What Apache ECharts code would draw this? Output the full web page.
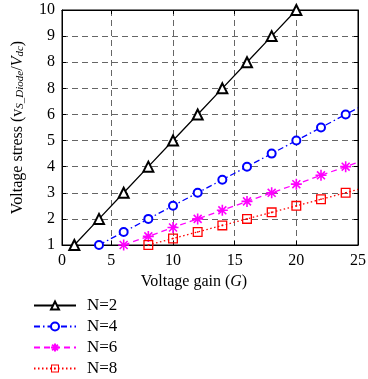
<!DOCTYPE html>
<html>
<head>
<meta charset="utf-8">
<script src="https://cdn.jsdelivr.net/npm/echarts@6/dist/echarts.min.js"></script>
<style>
  html, body { margin: 0; padding: 0; background: #fff; }
  #chart { width: 368px; height: 379px; }
</style>
</head>
<body>
<div id="chart"></div>
<script>
// values
const seriesNames = ['N=2', 'N=4', 'N=6', 'N=8']
const gainN2 = [2, 4, 6, 8, 10, 12, 14, 16, 18, 20]
const stressN2 = [1, 2, 3, 4, 5, 6, 7, 8, 9, 10]
const gainN4 = [4, 6, 8, 10, 12, 14, 16, 18, 20, 22, 24, 25]
const stressN4 = [1, 1.5, 2, 2.5, 3, 3.5, 4, 4.5, 5, 5.5, 6, 6.25]
const gainN6 = [6, 8, 10, 12, 14, 16, 18, 20, 22, 24, 25]
const stressN6 = [1, 1.33, 1.67, 2, 2.33, 2.67, 3, 3.33, 3.67, 4, 4.17]
const gainN8 = [8, 10, 12, 14, 16, 18, 20, 22, 24, 25]
const stressN8 = [1, 1.25, 1.5, 1.75, 2, 2.25, 2.5, 2.75, 3, 3.13]

// tick labels as printed (the figure labels x=1 as "0" and y=7 as "8")
const xTickValues = [1, 5, 10, 15, 20, 25]
const xTickLabels = ['0', '5', '10', '15', '20', '25']
const yTickLabels = ['1', '2', '3', '4', '5', '6', '8', '8', '9', '10']

const FONT = 'Liberation Serif'
const ASTERISK = 'path://M0 -5 L0 5 M-5 0 L5 0 M-3.6 -3.6 L3.6 3.6 M3.6 -3.6 L-3.6 3.6'
const DOT_SQUARE = 'path://M-5 -5 H5 V5 H-5 Z M-3.7 -3.7 V3.7 H3.7 V-3.7 Z M-0.8 -0.8 H0.8 V0.8 H-0.8 Z'

function pairs(xs, ys) {
  // the curves run on to the frame edge at G=25 without a marker there
  return xs.map((x, i) => (x === 25 ? { value: [x, ys[i]], symbol: 'none' } : [x, ys[i]]))
}

function lineSeries(name, data, color, dash, symbol, size, itemStyle) {
  return {
    name,
    type: 'line',
    data,
    color,
    symbol,
    symbolSize: size,
    showAllSymbol: true,
    lineStyle: { color, width: 1.3, type: dash },
    itemStyle: Object.assign({ color, borderColor: color, borderWidth: 1.6 }, itemStyle || {}),
    emphasis: { disabled: true },
    animation: false,
    z: 3
  }
}

const chart = echarts.init(document.getElementById('chart'))

const tickLabelStyle = { color: '#000', fontFamily: FONT, fontSize: 16 }

chart.setOption({
  backgroundColor: '#fff',
  animation: false,
  grid: {
    left: 62, right: 10, top: 10, bottom: 134,
    show: true, borderColor: '#000', borderWidth: 1,
    outerBoundsMode: 'none'
  },
  legend: {
    data: seriesNames,
    orient: 'vertical',
    left: 33,
    top: 297,
    padding: 0,
    itemWidth: 42,
    itemHeight: 10,
    itemGap: 4,
    textStyle: { color: '#000', fontFamily: FONT, fontSize: 17, lineHeight: 17, padding: [0, 0, 0, 6] },
    selectedMode: false
  },
  xAxis: [
    {
      type: 'value',
      min: 1,
      max: 25,
      name: 'Voltage gain ({i|G})',
      nameLocation: 'middle',
      nameGap: 29,
      nameTextStyle: {
        color: '#000', fontFamily: FONT, fontSize: 16,
        padding: [0, 32, 0, 0],
        rich: { i: { fontFamily: FONT, fontStyle: 'italic', fontSize: 16, color: '#000' } }
      },
      axisLine: { lineStyle: { color: '#000', width: 1 } },
      axisTick: { inside: true, length: 4, customValues: xTickValues, lineStyle: { color: '#000' } },
      axisLabel: {
        customValues: xTickValues,
        margin: 8,
        ...tickLabelStyle,
        formatter: v => xTickLabels[xTickValues.indexOf(v)]
      },
      splitLine: { show: true, lineStyle: { color: '#666', type: [6, 4], width: 1 } }
    },
    {
      type: 'value',
      position: 'top',
      min: 1,
      max: 25,
      axisLine: { lineStyle: { color: '#000' } },
      axisTick: { inside: true, length: 4, customValues: xTickValues, lineStyle: { color: '#000' } },
      axisLabel: { show: false },
      splitLine: { show: false }
    }
  ],
  yAxis: [
    {
      type: 'value',
      min: 1,
      max: 10,
      interval: 1,
      name: 'Voltage stress (v{s|S_Diode}/{i|V}{s|dc})',
      nameLocation: 'middle',
      nameGap: 36,
      nameTextStyle: {
        color: '#000', fontFamily: FONT, fontSize: 16,
        rich: {
          i: { fontFamily: FONT, fontStyle: 'italic', fontSize: 16, color: '#000' },
          s: { fontFamily: FONT, fontStyle: 'italic', fontSize: 11, color: '#000', padding: [6, 0, 0, 0] }
        }
      },
      axisLine: { lineStyle: { color: '#000', width: 1 } },
      axisTick: { inside: true, length: 4, lineStyle: { color: '#000' } },
      axisLabel: {
        margin: 7,
        ...tickLabelStyle,
        formatter: v => yTickLabels[Math.round(v) - 1]
      },
      splitLine: { show: true, lineStyle: { color: '#666', type: [6, 4], width: 1 } }
    },
    {
      type: 'value',
      position: 'right',
      min: 1,
      max: 10,
      interval: 1,
      axisLine: { lineStyle: { color: '#000' } },
      axisTick: { inside: true, length: 4, lineStyle: { color: '#000' } },
      axisLabel: { show: false },
      splitLine: { show: false }
    }
  ],
  series: [
    lineSeries('N=2', pairs(gainN2, stressN2), '#000000', 'solid', 'emptyTriangle', 10),
    lineSeries('N=4', pairs(gainN4, stressN4), '#0000ff', [6, 3, 1.5, 3], 'emptyCircle', 8),
    lineSeries('N=6', pairs(gainN6, stressN6), '#ff00ff', [6, 4], ASTERISK, 11),
    lineSeries('N=8', pairs(gainN8, stressN8), '#ff0000', [1.5, 2.5], DOT_SQUARE, 10, { borderWidth: 0 })
  ]
})
</script>
</body>
</html>
